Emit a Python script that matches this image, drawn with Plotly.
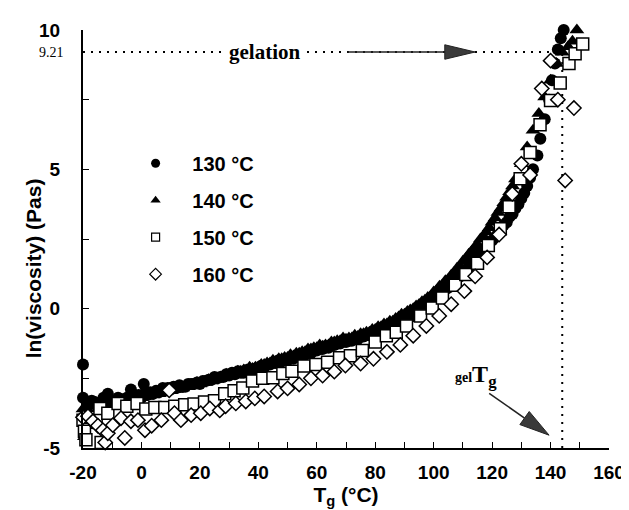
import plotly.graph_objects as go

# ---------------- data ----------------
series_names = ["130 °C", "140 °C", "150 °C", "160 °C"]

x130 = [-20, -20, -19.5, -19, -18, -17, -16, -15, -14, -13, -12, -11.5, -10, -9, -8, -7, -6, -5, -3.6, -2, -1,
        0, 0.8, 1, 2, 3, 4, 5, 6, 7.3, 8, 9, 10, 11, 12, 13, 14, 15, 16, 17, 18, 19, 20, 21, 22, 23, 24, 25,
        26, 27, 28, 29, 30, 31, 32, 33, 34, 35, 36, 37, 38, 39, 40, 41, 42, 43, 44, 45, 46, 47, 48, 49, 50,
        51, 52, 53, 54, 55, 56, 57, 58, 59, 60, 61, 62, 63, 64, 65, 66, 67, 68, 69, 70, 71, 72, 73, 74, 75,
        76, 77, 78, 79, 80, 81, 82, 83, 84, 85, 86, 87, 88, 89, 90, 91, 92, 93, 94, 95, 96, 97, 98, 99, 100,
        101, 102, 103, 104, 105, 106, 107, 108, 109, 110, 111, 112, 113, 114, 115, 116, 117, 118, 119, 120,
        121, 122, 123, 124, 125, 126, 127, 128, 129, 130, 131, 132, 133, 134, 135.5, 136.5, 138, 139.5,
        140.5, 141.5, 142.5, 143.5, 144.5]
y130 = [-2.0, -3.2, -4.3, -3.6, -3.4, -3.3, -3.35, -3.45, -3.4, -3.2, -3.25, -3.05, -3.3, -3.35, -3.2, -3.25,
        -3.3, -3.2, -2.9, -3.2, -3.1, -3.2, -2.7, -3.05, -3.1, -3.0, -3.05, -2.95, -3.0, -2.85, -2.95, -2.85,
        -2.9, -2.8, -2.85, -2.75, -2.8, -2.8, -2.7, -2.7, -2.7, -2.65, -2.7, -2.6, -2.6, -2.55, -2.55, -2.45,
        -2.5, -2.45, -2.45, -2.35, -2.4, -2.3, -2.35, -2.25, -2.3, -2.3, -2.2, -2.2, -2.2, -2.15, -2.15, -2.05,
        -2.1, -2.0, -2.0, -1.95, -1.95, -1.85, -1.9, -1.85, -1.85, -1.75, -1.8, -1.7, -1.7, -1.65, -1.65, -1.55,
        -1.6, -1.5, -1.5, -1.45, -1.45, -1.35, -1.4, -1.3, -1.3, -1.25, -1.25, -1.15, -1.2, -1.15, -1.15, -1.05,
        -1.1, -1.0, -1.0, -0.95, -0.95, -0.85, -0.85, -0.8, -0.8, -0.7, -0.7, -0.6, -0.6, -0.5, -0.5, -0.4,
        -0.4, -0.3, -0.3, -0.15, -0.15, -0.05, 0.0, 0.1, 0.15, 0.2, 0.3, 0.4, 0.5, 0.55, 0.7, 0.75, 0.9, 1.0,
        1.1, 1.15, 1.3, 1.4, 1.5, 1.6, 1.75, 1.8, 2.0, 2.05, 2.2, 2.3, 2.45, 2.55, 2.7, 2.8, 3.0, 3.1, 3.3,
        3.4, 3.6, 3.75, 3.95, 4.15, 4.4, 4.7, 5.0, 5.5, 6.1, 6.8, 7.5, 8.2, 8.8, 9.3, 9.7, 10.0]

x140 = [-20, -19.5, -19, -18, -17, -16, -15, -14, -13, -12, -11, -10, -9, -8, -7, -6, -5, -4, -3, -2, -1, 0, 1,
        2, 3, 4, 5, 6, 7, 8, 9, 10, 11, 12, 13, 14, 15, 16, 17, 18, 19, 20, 21, 22, 23, 24, 25, 26, 27, 28,
        29, 30, 31, 32, 33, 34, 35, 36, 37, 38, 39, 40, 41, 42, 43, 44, 45, 46, 47, 48, 49, 50, 51, 52, 53,
        54, 55, 56, 57, 58, 59, 60, 61, 62, 63, 64, 65, 66, 67, 68, 69, 70, 71, 72, 73, 74, 75, 76, 77, 78,
        79, 80, 81, 82, 83, 84, 85, 86, 87, 88, 89, 90, 91, 92, 93, 94, 95, 96, 97, 98, 99, 100, 101, 102,
        103, 104, 105, 106, 107, 108, 109, 110, 111, 112, 113, 114, 115, 116, 117, 118, 119, 120, 121, 122,
        123, 124, 125, 126, 127, 128, 130, 132, 134, 136, 138, 140, 142, 144, 146, 147.5, 149]
y140 = [-3.6, -4.6, -4.2, -3.7, -3.45, -3.5, -3.6, -3.55, -3.5, -3.4, -3.45, -3.5, -3.4, -3.3, -3.35, -3.4,
        -3.3, -3.3, -3.2, -3.25, -3.2, -3.2, -3.1, -3.15, -3.05, -3.1, -3.05, -3.05, -2.95, -3.0, -2.9, -2.95,
        -2.9, -2.9, -2.8, -2.85, -2.75, -2.8, -2.75, -2.75, -2.65, -2.7, -2.65, -2.65, -2.55, -2.6, -2.5, -2.5,
        -2.45, -2.45, -2.35, -2.4, -2.35, -2.35, -2.25, -2.25, -2.2, -2.2, -2.1, -2.15, -2.1, -2.1, -2.0, -2.0,
        -1.95, -1.95, -1.85, -1.9, -1.8, -1.8, -1.75, -1.75, -1.65, -1.7, -1.6, -1.6, -1.55, -1.55, -1.45,
        -1.45, -1.4, -1.4, -1.3, -1.35, -1.3, -1.3, -1.2, -1.2, -1.15, -1.15, -1.05, -1.1, -1.05, -1.05, -0.95,
        -1.0, -0.9, -0.9, -0.85, -0.85, -0.75, -0.75, -0.65, -0.65, -0.55, -0.55, -0.45, -0.45, -0.35, -0.3,
        -0.2, -0.2, -0.1, -0.05, 0.0, 0.1, 0.15, 0.25, 0.3, 0.4, 0.45, 0.6, 0.65, 0.8, 0.85, 1.0, 1.05, 1.2,
        1.3, 1.45, 1.5, 1.7, 1.8, 1.95, 2.05, 2.2, 2.3, 2.5, 2.6, 2.75, 2.9, 3.1, 3.25, 3.45, 3.6, 3.8, 4.0,
        4.2, 4.4, 4.65, 5.2, 5.8, 6.4, 7.0, 7.6, 8.2, 8.8, 9.2, 9.4, 9.6, 10.0]

x150 = [-20, -19.5, -19, -18, -15.5, -14.2, -13.8, -11.5, -8, -5, -1.5, 1.5, 4.6, 8, 11.4, 14.8, 18, 21.6,
        25, 28.5, 31.7, 34.7, 38, 41.5, 45, 48.4, 51.5, 55.6, 59.7, 63.7, 67.8, 71.5, 75.6, 80, 83.8, 87.2,
        90.7, 95.5, 99.5, 103, 107.4, 111, 115, 118.7, 122.8, 125.8, 129.6, 133, 136.4, 140, 143.3, 146.3,
        148.4, 151]
y150 = [-4.0, -4.4, -4.7, -3.9, -4.0, -3.58, -4.8, -3.75, -3.4, -3.5, -3.4, -3.6, -3.55, -3.55, -3.5, -3.45,
        -3.42, -3.35, -3.3, -3.05, -2.95, -2.85, -2.6, -2.5, -2.48, -2.33, -2.25, -2.06, -2.0, -1.92, -1.76,
        -1.69, -1.5, -1.2, -0.97, -0.85, -0.62, -0.26, 0.02, 0.38, 0.84, 1.23, 1.63, 2.27, 2.87, 3.66, 4.66,
        5.6, 6.6, 7.47, 8.1, 8.8, 9.15, 9.5]

x160 = [-20, -18.3, -16.6, -14.9, -13.2, -12.4, -11.5, -9.8, -7, -5.7, -3.6, -1.2, 1.2, 3.5, 6.8, 9.5, 11.3,
        13.5, 17, 20.3, 23.4, 26.8, 28.8, 32.3, 35.7, 38.8, 42, 46.6, 50, 54, 58, 62, 66, 69.8, 75, 79.4, 84,
        88.6, 93, 97.5, 101.9, 106, 110.5, 114.2, 118.3, 122.4, 126.9, 130, 133, 137, 140, 142.5, 145, 148]
y160 = [-3.9, -3.86, -4.04, -4.2, -4.36, -4.8, -4.47, -4.18, -3.93, -4.64, -4.04, -4.0, -4.36, -4.2, -4.0,
        -2.93, -3.75, -4.0, -3.82, -3.75, -3.58, -3.65, -3.5, -3.4, -3.33, -3.22, -3.15, -2.97, -2.86, -2.72,
        -2.5, -2.4, -2.26, -2.04, -1.97, -1.8, -1.55, -1.3, -0.97, -0.62, -0.26, 0.16, 0.63, 1.16, 1.84, 2.66,
        4.12, 5.2, 4.8, 7.9, 8.9, 7.5, 4.6, 7.2]

x_tick_vals = [-20, -10, 0, 10, 20, 30, 40, 50, 60, 70, 80, 90, 100, 110, 120, 130, 140, 150, 160]
x_tick_text = ["-20", "", "0", "", "20", "", "40", "", "60", "", "80", "", "100", "", "120", "", "140", "", "160"]
y_tick_vals = [-5, -2.5, 0, 2.5, 5, 7.5, 10]
y_tick_text = ["-5", "", "0", "", "5", "", "10"]

gel_viscosity = 9.21      # ln(viscosity) at gelation
gel_tg = 144              # gelTg
x_range = [-20, 160]
y_range = [-5, 10]

# annotation geometry (data units)
gel_label_x = 42
gel_arrow_start = 70.5
gel_arrow_head_base = 103.8
gel_arrow_tip = 114.2
gel_head_half = 0.26
tg_label = (114.5, -2.4)
tg_arrow_start = (119, -3.04)
tg_arrow_tip = (139.5, -4.54)
tg_head_c1 = (129.5, -4.16)
tg_head_c2 = (132.7, -3.69)

# ---------------- figure ----------------
fig = go.Figure()

styles = [
    dict(symbol="circle", size=12, color="black", line=dict(width=0)),
    dict(symbol="triangle-up", size=13, color="black", line=dict(width=0)),
    dict(symbol="square", size=12, color="white", line=dict(width=1.5, color="black")),
    dict(symbol="diamond", size=11, color="white", line=dict(width=1.5, color="black")),
]
legend_styles = [
    dict(symbol="circle", size=9, color="black", line=dict(width=0)),
    dict(symbol="triangle-up", size=9, color="black", line=dict(width=0)),
    dict(symbol="square", size=8, color="white", line=dict(width=1.2, color="black")),
    dict(symbol="diamond", size=9, color="white", line=dict(width=1.2, color="black")),
]
for i, (xs, ys) in enumerate([(x130, y130), (x140, y140), (x150, y150), (x160, y160)]):
    fig.add_trace(go.Scatter(
        x=xs, y=ys, mode="markers", name=series_names[i], marker=styles[i],
        cliponaxis=False, showlegend=False,
    ))
# legend entries (small symbols like the reference key)
for i in range(4):
    fig.add_trace(go.Scatter(
        x=[None], y=[None], mode="markers", marker=legend_styles[i],
        name="&nbsp;&nbsp;&nbsp;<b>" + series_names[i] + "</b>", legendgroup=str(i),
    ))

dot = "2px,6px"
shapes = [
    dict(type="line", xref="x", yref="y", x0=x_range[0], x1=gel_tg - 2, y0=gel_viscosity, y1=gel_viscosity,
         line=dict(color="black", width=2, dash=dot), layer="below"),
    dict(type="line", xref="x", yref="y", x0=gel_tg, x1=gel_tg, y0=y_range[0], y1=gel_viscosity,
         line=dict(color="black", width=2, dash=dot), layer="below"),
    dict(type="line", xref="x", yref="y", x0=gel_arrow_start, x1=gel_arrow_head_base,
         y0=gel_viscosity, y1=gel_viscosity, line=dict(color="#222", width=1.6)),
    dict(type="path", xref="x", yref="y",
         path=f"M {gel_arrow_head_base},{gel_viscosity + gel_head_half} L {gel_arrow_tip},{gel_viscosity} "
              f"L {gel_arrow_head_base},{gel_viscosity - gel_head_half} Z",
         fillcolor="#3a3a3a", line=dict(color="#222", width=1)),
    dict(type="line", xref="x", yref="y", x0=tg_arrow_start[0], y0=tg_arrow_start[1],
         x1=(tg_head_c1[0] + tg_head_c2[0]) / 2, y1=(tg_head_c1[1] + tg_head_c2[1]) / 2,
         line=dict(color="#222", width=1.6)),
    dict(type="path", xref="x", yref="y",
         path=f"M {tg_head_c1[0]},{tg_head_c1[1]} L {tg_arrow_tip[0]},{tg_arrow_tip[1]} "
              f"L {tg_head_c2[0]},{tg_head_c2[1]} Z",
         fillcolor="#3a3a3a", line=dict(color="#222", width=1)),
]

annotations = [
    dict(x=gel_label_x, y=gel_viscosity, xref="x", yref="y", text="<b>gelation</b>", showarrow=False,
         font=dict(family="Liberation Serif", size=21, color="black"), bgcolor="white", borderpad=3),
    dict(x=tg_label[0], y=tg_label[1], xref="x", yref="y",
         text="<b><span style='font-size:14px'>gel</span>T<sub>g</sub></b>", showarrow=False,
         font=dict(family="Liberation Serif", size=24, color="black")),
    dict(x=x_range[0], y=gel_viscosity, xref="x", yref="y", text="9.21", showarrow=False,
         xanchor="right", xshift=-17, font=dict(family="Liberation Serif", size=14, color="black")),
    dict(x=-0.095, y=0.43, xref="paper", yref="paper", text="<b>ln(viscosity) (Pas)</b>", showarrow=False,
         xanchor="center", yanchor="middle", textangle=-90,
         font=dict(family="Liberation Sans", size=21, color="black")),
]

axis_font = dict(family="Liberation Sans", size=19, color="black")
fig.update_layout(
    width=629, height=510, autosize=False,
    margin=dict(l=75, r=28, t=19, b=70),
    paper_bgcolor="white", plot_bgcolor="white",
    shapes=shapes, annotations=annotations,
    showlegend=True,
    legend=dict(x=0.1, y=0.728, xanchor="left", yanchor="top", bgcolor="rgba(0,0,0,0)",
                font=dict(family="Liberation Sans", size=20, color="black"),
                tracegroupgap=8, itemsizing="trace"),
    xaxis=dict(range=x_range, showgrid=False, zeroline=False, showline=True, linecolor="black",
               linewidth=2, ticks="inside", ticklen=6, tickwidth=1, tickcolor="black",
               tickvals=x_tick_vals, ticktext=[f"<b>{t}</b>" if t else "" for t in x_tick_text],
               tickfont=axis_font, ticklabelstandoff=6,
               title=dict(text="<b>T<sub>g</sub> (°C)</b>", font=dict(family="Liberation Sans", size=21,
                                                                      color="black"), standoff=2)),
    yaxis=dict(range=y_range, showgrid=False, zeroline=False, showline=True, linecolor="black",
               linewidth=2, ticks="inside", ticklen=6, tickwidth=1, tickcolor="black",
               tickvals=y_tick_vals, ticktext=[f"<b>{t}</b>" if t else "" for t in y_tick_text],
               tickfont=axis_font, ticklabelstandoff=17),
)

fig.write_html("out.html")
